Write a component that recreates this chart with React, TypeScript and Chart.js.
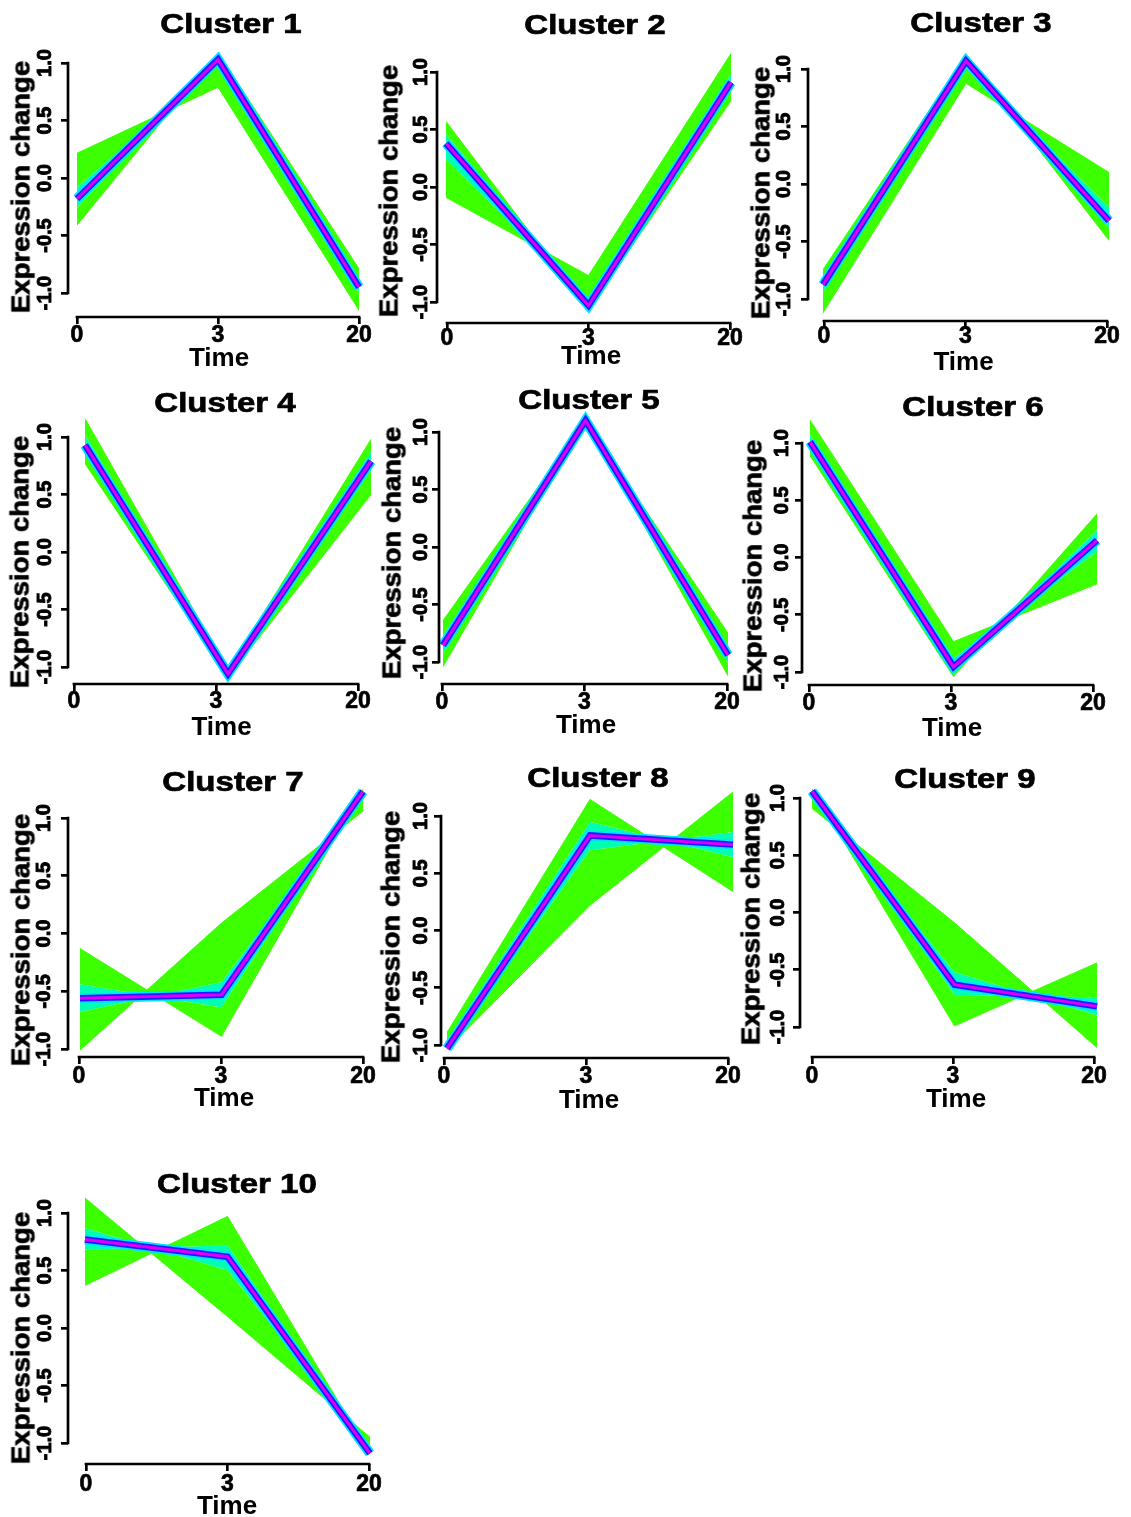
import React, { useEffect, useRef } from 'react';
import { Chart, registerables } from 'chart.js';

Chart.register(...registerables);

const FONT = '"Liberation Sans", Arial, Helvetica, sans-serif';

// ---------- data ----------
const timeLabels = ['0', '3', '20'];
const yTickValues = [-1.0, -0.5, 0.0, 0.5, 1.0];
const clusterTitles = ['Cluster 1', 'Cluster 2', 'Cluster 3', 'Cluster 4', 'Cluster 5', 'Cluster 6', 'Cluster 7', 'Cluster 8', 'Cluster 9', 'Cluster 10'];

// each cluster: centroid (highest membership), two outer member profiles (A, B) and two inner ones
const c1Center = [-0.18, 1.03, -0.95];
const c1OuterA = [0.215, 0.79, -1.15];
const c1InnerA = [-0.08, 0.97, -1.0];
const c1OuterB = [-0.41, 1.09, -0.79];
const c1InnerB = [-0.26, 1.06, -0.9];

const c2Center = [0.38, -1.03, 0.91];
const c2OuterA = [0.57, -1.07, 0.75];
const c2InnerA = [0.46, -1.05, 0.86];
const c2OuterB = [-0.09, -0.77, 1.16];
const c2InnerB = [0.24, -0.97, 0.98];

const c3Center = [-0.875, 1.07, -0.32];
const c3OuterA = [-1.12, 0.875, 0.1];
const c3InnerA = [-0.94, 1.03, -0.2];
const c3OuterB = [-0.745, 1.12, -0.49];
const c3InnerB = [-0.82, 1.1, -0.38];

const c4Center = [0.93, -1.06, 0.79];
const c4OuterA = [1.16, -1.03, 0.98];
const c4InnerA = [1.02, -1.05, 0.87];
const c4OuterB = [0.77, -1.09, 0.5];
const c4InnerB = [0.86, -1.07, 0.71];

const c5Center = [-0.855, 1.1, -0.94];
const c5OuterA = [-0.64, 1.1, -0.75];
const c5InnerA = [-0.77, 1.1, -0.86];
const c5OuterB = [-1.04, 1.1, -1.12];
const c5InnerB = [-0.93, 1.1, -1.01];

const c6Center = [1.01, -0.955, 0.15];
const c6OuterA = [1.2, -0.735, -0.23];
const c6InnerA = [1.07, -0.88, 0.05];
const c6OuterB = [0.89, -1.04, 0.38];
const c6InnerB = [0.95, -0.99, 0.24];

const c7Center = [-0.56, -0.53, 1.23];
const c7OuterA = [-0.13, -0.89, 1.25];
const c7InnerA = [-0.44, -0.64, 1.24];
const c7OuterB = [-1.01, 0.09, 1.06];
const c7InnerB = [-0.68, -0.42, 1.19];

const c8Center = [-1.03, 0.83, 0.75];
const c8OuterA = [-0.89, 1.145, 0.34];
const c8InnerA = [-0.97, 0.95, 0.64];
const c8OuterB = [-1.04, 0.22, 1.21];
const c8InnerB = [-1.04, 0.7, 0.86];

const c9Center = [1.06, -0.63, -0.82];
const c9OuterA = [0.91, -0.09, -1.18];
const c9InnerA = [1.0, -0.52, -0.9];
const c9OuterB = [1.08, -0.99, -0.44];
const c9InnerB = [1.07, -0.72, -0.74];

const c10Center = [0.77, 0.62, -1.09];
const c10OuterA = [1.13, 0.1, -0.95];
const c10InnerA = [0.87, 0.5, -1.04];
const c10OuterB = [0.37, 0.97, -1.1];
const c10InnerB = [0.68, 0.72, -1.1];

type Series = { title: string; center: number[]; outerA: number[]; innerA: number[]; outerB: number[]; innerB: number[] };

const clusters: Series[] = [
  { title: clusterTitles[0], center: c1Center, outerA: c1OuterA, innerA: c1InnerA, outerB: c1OuterB, innerB: c1InnerB },
  { title: clusterTitles[1], center: c2Center, outerA: c2OuterA, innerA: c2InnerA, outerB: c2OuterB, innerB: c2InnerB },
  { title: clusterTitles[2], center: c3Center, outerA: c3OuterA, innerA: c3InnerA, outerB: c3OuterB, innerB: c3InnerB },
  { title: clusterTitles[3], center: c4Center, outerA: c4OuterA, innerA: c4InnerA, outerB: c4OuterB, innerB: c4InnerB },
  { title: clusterTitles[4], center: c5Center, outerA: c5OuterA, innerA: c5InnerA, outerB: c5OuterB, innerB: c5InnerB },
  { title: clusterTitles[5], center: c6Center, outerA: c6OuterA, innerA: c6InnerA, outerB: c6OuterB, innerB: c6InnerB },
  { title: clusterTitles[6], center: c7Center, outerA: c7OuterA, innerA: c7InnerA, outerB: c7OuterB, innerB: c7InnerB },
  { title: clusterTitles[7], center: c8Center, outerA: c8OuterA, innerA: c8InnerA, outerB: c8OuterB, innerB: c8InnerB },
  { title: clusterTitles[8], center: c9Center, outerA: c9OuterA, innerA: c9InnerA, outerB: c9OuterB, innerB: c9InnerB },
  { title: clusterTitles[9], center: c10Center, outerA: c10OuterA, innerA: c10InnerA, outerB: c10OuterB, innerB: c10InnerB },
];

// ---------- layout (page pixels) ----------
type Geo = {
  yAx: number; y1: number; ym1: number; xAx: number; tx0: number; tx20: number; dx0: number; dx20: number;
  plotRight: number; titleX: number; titleY: number; yTitleY: number; yTitleOff: number; yLabOff: number; xLabOff: number; timeOff: number;
};

const panelGeo: Geo[] = [
  { yAx: 68, y1: 63, ym1: 293, xAx: 317, tx0: 77, tx20: 359, dx0: 77, dx20: 359, plotRight: 370, titleX: 231, titleY: 24, yTitleY: 187, yTitleOff: 46, yLabOff: 23, xLabOff: 19, timeOff: 42 },
  { yAx: 437, y1: 72, ym1: 302, xAx: 323, tx0: 447, tx20: 730, dx0: 446, dx20: 731, plotRight: 745, titleX: 595, titleY: 25, yTitleY: 191, yTitleOff: 47, yLabOff: 16, xLabOff: 16, timeOff: 34 },
  { yAx: 808, y1: 69, ym1: 299, xAx: 321, tx0: 824, tx20: 1107, dx0: 823, dx20: 1109, plotRight: 1119, titleX: 981, titleY: 23, yTitleY: 193, yTitleOff: 46, yLabOff: 24, xLabOff: 16, timeOff: 42 },
  { yAx: 68, y1: 437, ym1: 667, xAx: 684, tx0: 74, tx20: 358, dx0: 85, dx20: 371, plotRight: 366, titleX: 225, titleY: 403, yTitleY: 562, yTitleOff: 47, yLabOff: 23, xLabOff: 18, timeOff: 44 },
  { yAx: 439, y1: 432, ym1: 662, xAx: 684, tx0: 442, tx20: 727, dx0: 443, dx20: 728, plotRight: 733, titleX: 589, titleY: 400, yTitleY: 553, yTitleOff: 46, yLabOff: 18, xLabOff: 19, timeOff: 42 },
  { yAx: 802, y1: 443, ym1: 672, xAx: 685, tx0: 809, tx20: 1093, dx0: 810, dx20: 1097, plotRight: 1102, titleX: 973, titleY: 407, yTitleY: 566, yTitleOff: 48, yLabOff: 20, xLabOff: 19, timeOff: 44 },
  { yAx: 68, y1: 818, ym1: 1049, xAx: 1057, tx0: 79, tx20: 363, dx0: 80, dx20: 363, plotRight: 380, titleX: 233, titleY: 782, yTitleY: 940, yTitleOff: 46, yLabOff: 24, xLabOff: 20, timeOff: 42 },
  { yAx: 441, y1: 816, ym1: 1045, xAx: 1058, tx0: 444, tx20: 728, dx0: 447, dx20: 733, plotRight: 733, titleX: 598, titleY: 778, yTitleY: 937, yTitleOff: 49, yLabOff: 20, xLabOff: 19, timeOff: 43 },
  { yAx: 800, y1: 798, ym1: 1027, xAx: 1057, tx0: 812, tx20: 1094, dx0: 812, dx20: 1097, plotRight: 1112, titleX: 965, titleY: 779, yTitleY: 919, yTitleOff: 48, yLabOff: 22, xLabOff: 20, timeOff: 43 },
  { yAx: 68, y1: 1213, ym1: 1443, xAx: 1464, tx0: 86, tx20: 369, dx0: 85, dx20: 370, plotRight: 386, titleX: 237, titleY: 1184, yTitleY: 1338, yTitleOff: 46, yLabOff: 23, xLabOff: 21, timeOff: 43 },
];

// ---------- style ----------
const GREEN = '#3cff00';
const TEAL = '#00ffb0';
const CYAN = '#00e4ff';
const BLUE = '#1a1aff';
const MAGENTA = '#dc00ff';
const AXIS_W = 2.7;
const TICK_FONT = 20;
const XTICK_FONT = 23;
const TIME_FONT = 26;
const STROKE = 0.7;

const rAxesPlugin = {
  id: 'rAxes',
  afterDraw(chart: any) {
    const { ctx, chartArea } = chart;
    const y = chart.scales.y;
    const xt = chart.scales.xt;
    ctx.save();
    ctx.strokeStyle = '#000';
    ctx.lineWidth = AXIS_W;
    ctx.lineCap = 'square';
    ctx.beginPath();
    ctx.moveTo(chartArea.left, y.getPixelForValue(yTickValues[0]));
    ctx.lineTo(chartArea.left, y.getPixelForValue(yTickValues[yTickValues.length - 1]));
    ctx.moveTo(xt.getPixelForValue(0), chartArea.bottom);
    ctx.lineTo(xt.getPixelForValue(timeLabels.length - 1), chartArea.bottom);
    ctx.stroke();
    ctx.restore();
  },
};

function Panel({ s, g }: { s: Series; g: Geo }) {
  const ref = useRef<HTMLCanvasElement | null>(null);
  const ppu = (g.ym1 - g.y1) / 2;
  const chartTop = Math.round(g.y1 - 0.42 * ppu);
  const canvasTop = chartTop - 6;
  const canvasLeft = g.yAx - 70;
  const chartRight = Math.max(g.plotRight, g.dx20 + 4);
  const canvasRight = Math.min(chartRight + 12, 1131);
  const canvasBottom = g.xAx + g.timeOff + 20;
  const W = canvasRight - canvasLeft;
  const H = canvasBottom - canvasTop;

  useEffect(() => {
    if (!ref.current) return;
    const yMin = -1 - (g.xAx - g.ym1) / ppu;
    const yMax = 1 + (g.y1 - chartTop) / ppu;
    const kt = (g.tx20 - g.tx0) / 2;
    const xtMin = -(g.tx0 - g.yAx) / kt;
    const xtMax = 2 + (chartRight - g.tx20) / kt;
    const kd = (g.dx20 - g.dx0) / 2;
    const xdMin = -(g.dx0 - g.yAx) / kd;
    const xdMax = 2 + (chartRight - g.dx20) / kd;

    const pts = (arr: number[]) => arr.map((v, i) => ({ x: i, y: v }));
    const common = { xAxisID: 'xd', yAxisID: 'y', pointRadius: 0, pointHoverRadius: 0, tension: 0, clip: false as any };

    const grid = { display: true, drawOnChartArea: false, drawTicks: true, tickLength: 7, tickWidth: AXIS_W, tickColor: '#000', color: '#000', lineWidth: AXIS_W };

    const chart = new Chart(ref.current, {
      type: 'line',
      data: {
        datasets: [
          { ...common, data: pts(s.center), borderColor: MAGENTA, borderWidth: 3, fill: false },
          { ...common, data: pts(s.center), borderColor: BLUE, borderWidth: 6.5, fill: false },
          { ...common, data: pts(s.center), borderColor: CYAN, borderWidth: 10, fill: false },
          { ...common, data: pts(s.outerA), borderColor: GREEN, borderWidth: 1, backgroundColor: GREEN, fill: 4 },
          { ...common, data: pts(s.innerA), borderColor: 'rgba(0,0,0,0)', borderWidth: 1, backgroundColor: TEAL, fill: 2 },
          { ...common, data: pts(s.outerB), borderColor: GREEN, borderWidth: 1, backgroundColor: GREEN, fill: 6 },
          { ...common, data: pts(s.innerB), borderColor: 'rgba(0,0,0,0)', borderWidth: 1, backgroundColor: TEAL, fill: 2 },
        ] as any,
      },
      options: {
        animation: false,
        responsive: false,
        maintainAspectRatio: false,
        events: [],
        layout: { padding: { top: chartTop - canvasTop, right: canvasRight - chartRight, left: 0, bottom: 0 } },
        plugins: { legend: { display: false }, tooltip: { enabled: false }, title: { display: false } },
        scales: {
          xd: {
            type: 'linear', axis: 'x', position: 'bottom', display: false, min: xdMin, max: xdMax, bounds: 'data',
            afterFit: (sc: any) => { sc.height = 0; sc.paddingLeft = 0; sc.paddingRight = 0; },
          },
          xt: {
            type: 'linear', axis: 'x', position: 'bottom', min: xtMin, max: xtMax, bounds: 'data',
            afterBuildTicks: (sc: any) => { sc.ticks = timeLabels.map((_, i) => ({ value: i })); },
            afterFit: (sc: any) => { sc.height = g.timeOff + 20; sc.paddingLeft = 0; sc.paddingRight = 0; },
            ticks: {
              autoSkip: false, maxRotation: 0, minRotation: 0, color: '#000',
              textStrokeColor: '#000', textStrokeWidth: STROKE,
              padding: g.xLabOff - 7 - (XTICK_FONT * 1.2) / 2,
              font: { family: FONT, size: XTICK_FONT, weight: 'bold', lineHeight: 1.2 },
              callback: (v: any) => timeLabels[Math.round(Number(v))],
            },
            grid,
            border: { display: false },
            title: {
              display: true, text: 'Time', color: '#000',
              font: { family: FONT, size: TIME_FONT, weight: 'bold', lineHeight: 1.2 },
              padding: { top: 0, bottom: 20 - (TIME_FONT * 1.2) / 2 },
            },
          },
          y: {
            type: 'linear', position: 'left', min: yMin, max: yMax, bounds: 'data',
            afterBuildTicks: (sc: any) => { sc.ticks = yTickValues.map((v) => ({ value: v })); },
            afterFit: (sc: any) => { sc.width = 70; sc.paddingTop = 0; sc.paddingBottom = 0; },
            ticks: {
              autoSkip: false, minRotation: 90, maxRotation: 90, crossAlign: 'center', color: '#000',
              textStrokeColor: '#000', textStrokeWidth: 0.9,
              padding: g.yLabOff - 7 - (TICK_FONT * 1.723) / 2,
              font: { family: FONT, size: TICK_FONT, weight: 'bold', lineHeight: 1.2 },
              callback: (v: any) => Number(v).toFixed(1),
            },
            grid,
            border: { display: false },
          },
        } as any,
      },
      plugins: [rAxesPlugin],
    });
    return () => chart.destroy();
  }, []);

  const textStroke = { WebkitTextStroke: `${STROKE}px #000` } as any;

  return (
    <>
      <canvas
        ref={ref}
        width={W}
        height={H}
        style={{ position: 'absolute', left: canvasLeft, top: canvasTop, width: W, height: H }}
      />
      <div
        style={{
          position: 'absolute', left: g.yAx - g.yTitleOff - 1, top: g.yTitleY,
          transform: 'translate(-50%, -50%) rotate(-90deg) scaleX(1.1)',
          font: `bold 25px ${FONT}`, lineHeight: '25px', whiteSpace: 'nowrap', color: '#000', ...textStroke,
        }}
      >
        Expression change
      </div>
      <div
        style={{
          position: 'absolute', left: g.titleX, top: g.titleY,
          transform: 'translate(-50%, -50%) scaleX(1.18)',
          font: `bold 28px ${FONT}`, lineHeight: '28px', whiteSpace: 'nowrap', color: '#000', ...textStroke,
        }}
      >
        {s.title}
      </div>
    </>
  );
}

export default function App() {
  return (
    <div style={{ position: 'absolute', left: 0, top: 0, width: 1131, height: 1517, overflow: 'hidden', background: '#fff' }}>
      {clusters.map((s, i) => (
        <Panel key={s.title} s={s} g={panelGeo[i]} />
      ))}
    </div>
  );
}
